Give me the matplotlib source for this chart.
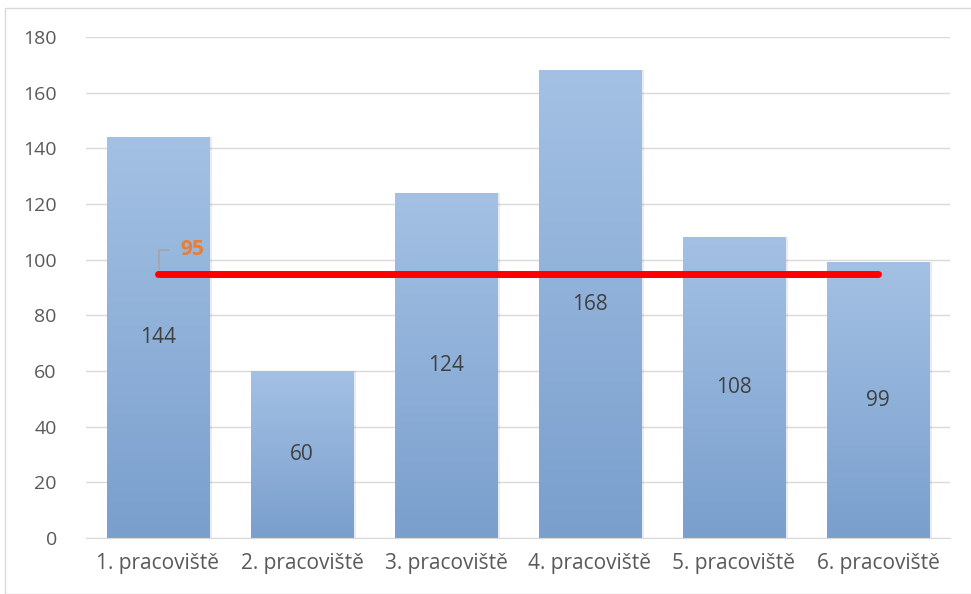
import numpy as np
import matplotlib
matplotlib.use("Agg")
import matplotlib.pyplot as plt
from matplotlib.patches import Rectangle
from matplotlib.colors import LinearSegmentedColormap

categories = ["1. pracoviště", "2. pracoviště", "3. pracoviště", "4. pracoviště", "5. pracoviště", "6. pracoviště"]
values = [144, 60, 124, 168, 108, 99]
average = 95
yticks = [0, 20, 40, 60, 80, 100, 120, 140, 160, 180]

plt.rcParams['font.family'] = ['Open Sans', 'DejaVu Sans']

fig = plt.figure(figsize=(9.71, 5.94), dpi=100)
ax = fig.add_axes([86/971, 56/594, (950-86)/971, (538-37)/594])

# outer frame
fig.patches.append(Rectangle((5/971, 0), 1, (594-8)/594, transform=fig.transFigure,
                             fill=False, edgecolor="#d9d9d9", linewidth=1.0, zorder=0))

x = np.arange(len(categories))
width = 0.71
cmap = LinearSegmentedColormap.from_list("g", ["#7a9fcd", "#a4c1e4"])
grad = np.linspace(0, 1, 256).reshape(-1, 1)

bars = ax.bar(x, values, width=width, color="none", zorder=2)
for b, v in zip(bars, values):
    sh = Rectangle((b.get_x() + 0.02, 0), width, v, facecolor="#000000", alpha=0.08,
                   edgecolor="none", zorder=1.5)
    ax.add_patch(sh)
    im = ax.imshow(grad, cmap=cmap, aspect="auto", origin="lower",
                   extent=[b.get_x(), b.get_x() + width, 0, v], zorder=2)
    im.set_clip_path(b)
    ax.text(b.get_x() + width / 2, v / 2, str(v), ha="center", va="center",
            fontsize=15, color="#404040", zorder=4)

ax.plot([x[0], x[-1]], [average, average], color="#ff0000", linewidth=5,
        solid_capstyle="round", zorder=3)
ax.annotate(str(average), xy=(x[0] + 0.01, average + 1.5), xytext=(x[0] + 0.155, average + 8.5),
            fontsize=15, fontweight="bold", color="#ed7d31", va="center", ha="left",
            arrowprops=dict(arrowstyle="-", color="#a6a6a6", lw=1.2,
                            connectionstyle="angle,angleA=0,angleB=90,rad=0",
                            shrinkA=6, shrinkB=0),
            zorder=5)

ax.set_xlim(-0.5, len(categories) - 0.5)
ax.set_ylim(0, 180)
ax.set_yticks(yticks)
ax.set_xticks(x)
ax.set_xticklabels(categories)
ax.grid(axis="y", color="#d9d9d9", linewidth=1.0, zorder=0)
ax.set_axisbelow(True)
for s in ["top", "right", "left"]:
    ax.spines[s].set_visible(False)
ax.spines["bottom"].set_color("#d9d9d9")
ax.tick_params(axis="both", length=0, colors="#595959")
ax.tick_params(axis="x", labelsize=15, pad=11)
ax.tick_params(axis="y", labelsize=14, pad=21)

fig.savefig("out.png", dpi=100)
